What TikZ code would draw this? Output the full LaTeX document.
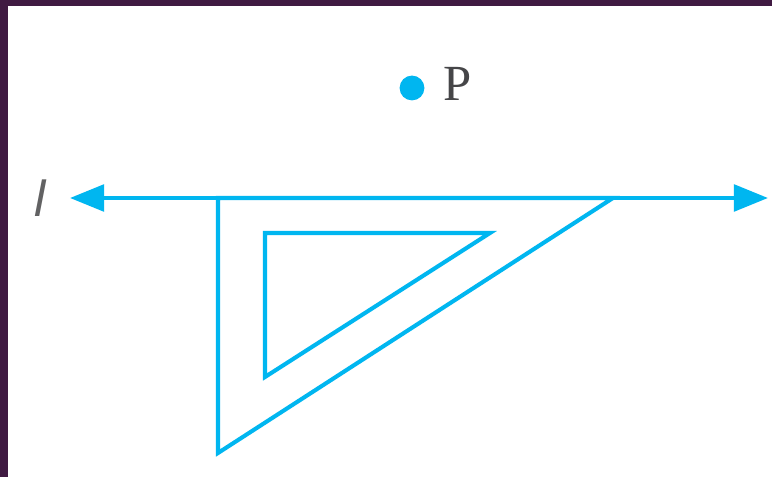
\documentclass[tikz,border=0pt]{standalone}
\usepackage{fontspec}
\setmainfont{Liberation Serif}
\setsansfont{Liberation Sans}
\usetikzlibrary{arrows.meta,positioning}
\definecolor{framepurple}{RGB}{64,26,66}
\definecolor{skycyan}{RGB}{0,182,240}
\definecolor{textgray}{RGB}{70,70,72}
\tikzset{
  setline/.style={line width=2.9pt, draw=skycyan, line join=miter},
  lineline/.style={line width=3pt, draw=skycyan,
                   {Triangle[length=0.85cm, width=0.66cm]}-{Triangle[length=0.85cm, width=0.66cm]}},
  dot/.style={circle, fill=skycyan, inner sep=0pt, minimum size=0.62cm},
  letter/.style={font=\fontsize{36}{40}\selectfont, text=textgray, inner sep=0pt},
}

\begin{document}
\begin{tikzpicture}[x=0.025cm, y=-0.025cm]
\useasboundingbox (0,0) rectangle (772,477);
% frame
\fill[framepurple] (0,0) rectangle (772,477);
\fill[white] (8,6) rectangle (772,477);

% point P
\node[dot] (p) at (412,88) {};
\node[letter, anchor=base west] (plabel) at (443,101) {P};

% line l
\coordinate (lleft) at (70,198);
\coordinate (lright) at (768,198);
\draw[lineline] (lleft) -- (lright);
\node[letter, font=\fontsize{36}{40}\selectfont\sffamily\itshape, text=textgray!85] (llabel) at (40,198) {l};

% set square, outer edge
\coordinate (oa) at (218,198);
\coordinate (ob) at (613,198);
\coordinate (oc) at (218,453);
\draw[setline] (oa) -- (ob) -- (oc) -- cycle;

% set square, inner edge
\coordinate (ia) at (265,233);
\coordinate (ib) at (490,233);
\coordinate (ic) at (265,377);
\draw[setline] (ia) -- (ib) -- (ic) -- cycle;
\end{tikzpicture}
\end{document}
